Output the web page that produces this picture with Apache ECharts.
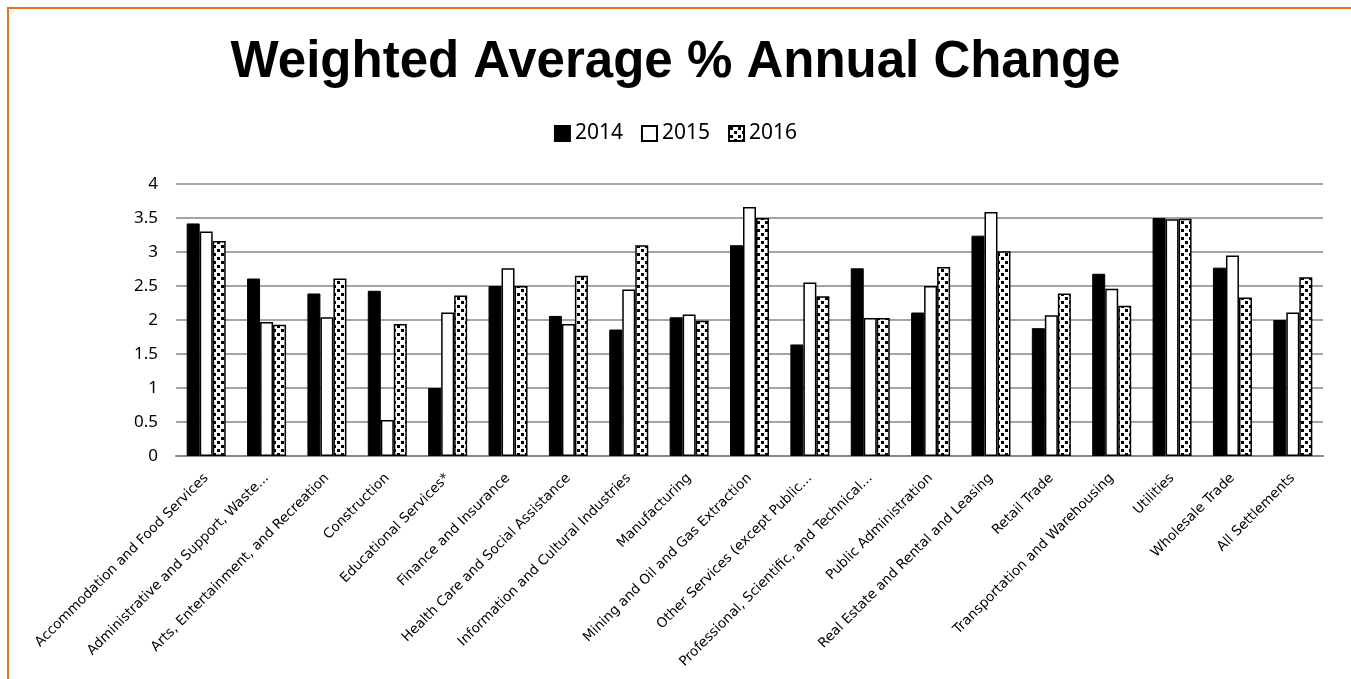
<!DOCTYPE html>
<html>
<head>
<meta charset="utf-8">
<title>Weighted Average % Annual Change</title>
<script src="https://cdn.jsdelivr.net/npm/echarts@6/dist/echarts.min.js"></script>
<style>
html,body{margin:0;padding:0;background:#fff;}
#main{width:1351px;height:679px;}
</style>
</head>
<body>
<div id="main"></div>
<script>
var categories = ['Accommodation and Food Services','Administrative and Support, Waste...','Arts, Entertainment, and Recreation','Construction','Educational Services*','Finance and Insurance','Health Care and Social Assistance','Information and Cultural Industries','Manufacturing','Mining and Oil and Gas Extraction','Other Services (except Public...','Professional, Scientific, and Technical...','Public Administration','Real Estate and Rental and Leasing','Retail Trade','Transportation and Warehousing','Utilities','Wholesale Trade','All Settlements'];
var v2014 = [3.42,2.61,2.39,2.43,1.0,2.50,2.06,1.86,2.04,3.10,1.64,2.76,2.11,3.24,1.88,2.68,3.50,2.77,2.00];
var v2015 = [3.30,1.97,2.04,0.53,2.11,2.76,1.94,2.45,2.08,3.66,2.55,2.03,2.50,3.59,2.07,2.46,3.48,2.95,2.11];
var v2016 = [3.16,1.93,2.61,1.94,2.36,2.50,2.65,3.10,1.99,3.50,2.35,2.03,2.78,3.01,2.39,2.21,3.49,2.33,2.63];
var yTicks = [0,0.5,1,1.5,2,2.5,3,3.5,4];

// dotted fill for 2016
var tile = document.createElement('canvas');
tile.width = 8; tile.height = 8;
var ctx = tile.getContext('2d');
ctx.fillStyle = '#fff'; ctx.fillRect(0,0,8,8);
ctx.fillStyle = '#000';
ctx.fillRect(1,1,3,3);
ctx.fillRect(5,5,3,3);

var chart = echarts.init(document.getElementById('main'));
chart.setOption({
    animation:false,
    backgroundColor:'#fff',
    title:{
        text:'Weighted Average % Annual Change',
        left:'center', top:32,
        textStyle:{fontFamily:'Liberation Sans',fontWeight:'bold',fontSize:51,color:'#000'}
    },
    legend:{
        data:['2014','2015','2016'],
        top:118, left:'center',
        icon:'rect',
        itemWidth:15, itemHeight:15, itemGap:18,
        textStyle:{fontFamily:'Noto Sans',fontSize:21,color:'#000'}
    },
    grid:{left:176,right:28,top:184,bottom:223,containLabel:false},
    xAxis:{
        type:'category',
        data:categories,
        axisLine:{lineStyle:{color:'#868686',width:2}},
        axisTick:{show:false},
        axisLabel:{rotate:45,interval:0,fontFamily:'DejaVu Sans',fontSize:13.6,color:'#000',margin:20}
    },
    yAxis:{
        type:'value',min:0,max:4,interval:0.5,
        axisLine:{show:false},
        axisTick:{show:false},
        axisLabel:{fontFamily:'Noto Sans',fontSize:17,color:'#000',margin:18,
            formatter:function(v){return yTicks.indexOf(v)>=0 ? String(v) : '';}},
        splitLine:{lineStyle:{color:'#868686',width:1.5}}
    },
    series:[
        {name:'2014',type:'bar',data:v2014,barWidth:13,barGap:'0%',
         itemStyle:{color:'#000',borderColor:'#000',borderWidth:1}},
        {name:'2015',type:'bar',data:v2015,barWidth:13,barGap:'0%',
         itemStyle:{color:'#fff',borderColor:'#000',borderWidth:1.5}},
        {name:'2016',type:'bar',data:v2016,barWidth:13,barGap:'0%',
         itemStyle:{color:{image:tile,repeat:'repeat'},borderColor:'#000',borderWidth:1.5}}
    ],
    graphic:[{
        type:'rect',silent:true,z:-1,
        shape:{x:8,y:8,width:1400,height:700},
        style:{fill:'none',stroke:'#F26D21',lineWidth:2}
    }]
});
</script>
</body>
</html>
